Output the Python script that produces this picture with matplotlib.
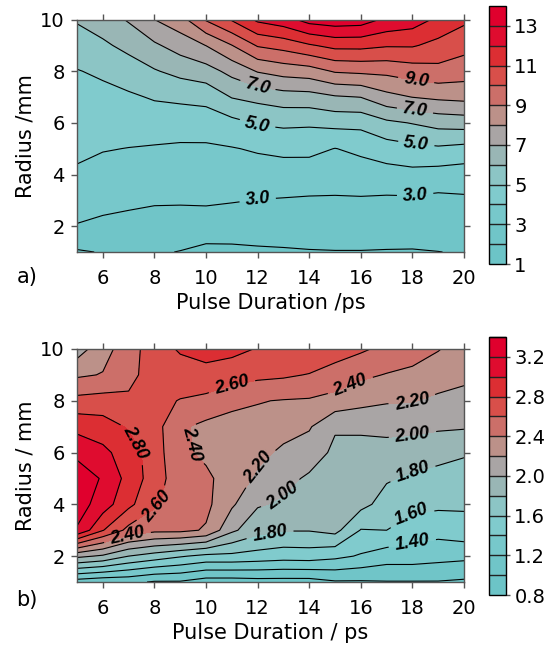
import numpy as np
import matplotlib
matplotlib.use('Agg')
import matplotlib.pyplot as plt

plt.rcParams['font.family'] = ['DejaVu Sans']

pulse_ps = [5, 6, 7, 8, 9, 10, 11, 12, 13, 14, 15, 16, 17, 18, 19, 20]
radius_mm = [1, 2, 3, 4, 5, 6, 7, 8, 9, 10]

# one row per pulse duration, values at radius 1..10 mm
values_a = [
  [1.90, 2.95, 3.42, 3.87, 4.19, 4.44, 4.70, 4.96, 5.49, 6.10],
  [2.05, 2.80, 3.28, 3.67, 4.05, 4.39, 4.74, 5.15, 5.83, 6.50],
  [2.10, 2.70, 3.19, 3.58, 3.98, 4.43, 4.86, 5.50, 6.28, 7.10],
  [2.10, 2.58, 3.11, 3.51, 3.92, 4.47, 5.09, 5.92, 6.85, 8.00],
  [1.97, 2.56, 3.10, 3.48, 3.86, 4.45, 5.20, 6.30, 7.43, 8.60],
  [1.75, 2.53, 3.13, 3.49, 3.85, 4.50, 5.30, 6.60, 8.02, 10.1],
  [1.80, 2.45, 3.06, 3.50, 3.95, 4.72, 6.05, 7.30, 8.98, 11.1],
  [1.85, 2.50, 2.98, 3.55, 4.10, 5.08, 6.30, 8.07, 10.1, 12.2],
  [1.90, 2.47, 2.94, 3.55, 4.23, 5.20, 6.55, 8.40, 10.4, 12.6],
  [1.95, 2.45, 2.90, 3.50, 4.25, 5.15, 6.60, 8.55, 10.9, 13.4],
  [1.97, 2.45, 2.88, 3.50, 3.98, 5.30, 6.90, 9.10, 11.3, 13.6],
  [1.97, 2.45, 2.90, 3.55, 4.20, 5.30, 7.02, 9.20, 11.3, 13.5],
  [1.95, 2.45, 2.85, 3.60, 4.55, 5.80, 7.70, 9.25, 11.1, 12.8],
  [1.94, 2.45, 2.85, 3.70, 4.75, 6.05, 8.02, 9.50, 11.1, 12.5],
  [1.99, 2.40, 2.75, 3.60, 4.85, 6.35, 8.20, 9.70, 10.7, 11.8],
  [2.05, 2.45, 2.85, 3.50, 4.70, 6.45, 8.30, 9.47, 10.33, 11.2],
]

values_b = [
  [1.10, 2.05, 3.18, 3.30, 3.32, 3.15, 2.94, 2.66, 2.37, 2.10],
  [1.05, 1.97, 2.81, 3.10, 3.18, 3.05, 2.89, 2.68, 2.41, 2.33],
  [1.05, 1.80, 2.54, 2.85, 2.93, 2.90, 2.78, 2.63, 2.55, 2.50],
  [0.98, 1.71, 2.45, 2.63, 2.70, 2.70, 2.68, 2.66, 2.68, 2.72],
  [0.98, 1.62, 2.45, 2.50, 2.48, 2.43, 2.43, 2.59, 2.72, 2.82],
  [0.90, 1.55, 2.38, 2.45, 2.43, 2.37, 2.35, 2.55, 2.73, 2.88],
  [0.90, 1.55, 2.04, 2.23, 2.33, 2.35, 2.33, 2.45, 2.70, 2.85],
  [0.92, 1.52, 1.87, 2.02, 2.16, 2.26, 2.34, 2.41, 2.65, 2.79],
  [0.92, 1.49, 1.81, 1.97, 2.06, 2.16, 2.28, 2.39, 2.63, 2.77],
  [0.92, 1.50, 1.81, 1.90, 1.97, 2.10, 2.22, 2.38, 2.59, 2.78],
  [0.98, 1.45, 1.86, 1.88, 1.92, 1.96, 2.02, 2.33, 2.53, 2.68],
  [0.98, 1.38, 1.59, 1.86, 1.88, 1.92, 2.04, 2.26, 2.44, 2.63],
  [0.99, 1.30, 1.60, 1.72, 1.82, 1.93, 2.05, 2.22, 2.39, 2.55],
  [0.99, 1.30, 1.50, 1.66, 1.77, 1.90, 2.05, 2.21, 2.35, 2.50],
  [0.99, 1.27, 1.47, 1.64, 1.74, 1.86, 2.03, 2.16, 2.30, 2.41],
  [0.97, 1.25, 1.52, 1.63, 1.72, 1.82, 2.02, 2.13, 2.25, 2.32],
]

levels_a = np.arange(1, 15, 1.0)
levels_b = np.round(np.arange(0.8, 3.41, 0.2), 2)

cbar_ticks_a = [1, 3, 5, 7, 9, 11, 13]
cbar_ticks_b = [0.8, 1.2, 1.6, 2.0, 2.4, 2.8, 3.2]

# teal -> grey -> red, one colour per band
band_colors = [
  '#6cc4c7', '#70c5c8', '#77c8cb', '#80cbcd', '#8cc5c5', '#99b6b5',
  '#a9a5a5', '#bc9189', '#cc6f69', '#d84f4a', '#dc2e33', '#df0c2f', '#e0002d',
]

# where the inline contour labels sit
labels_a = {
  3.0: [(12.0, 3.05), (18.1, 3.25)],
  5.0: [(12.0, 5.96), (18.15, 5.19)],
  7.0: [(12.0, 7.41), (18.1, 6.48)],
  9.0: [(18.15, 7.7)],
}
labels_b = {
  1.4: [(18.0, 2.47)],
  1.6: [(18.0, 3.5)],
  1.8: [(12.5, 2.72), (18.0, 5.23)],
  2.0: [(13.06, 4.14), (18.0, 6.71)],
  2.2: [(12.03, 5.43), (18.0, 7.94)],
  2.4: [(7.0, 2.6), (9.46, 6.33), (15.6, 8.58)],
  2.6: [(8.1, 3.88), (11.0, 8.58)],
  2.8: [(7.2, 6.33)],
}

fig = plt.figure(figsize=(5.47, 6.5), dpi=100)

def panel(rect, cbar_rect, values, levels, ticks, labels, fmt, tick_fmt, xlabel, ylabel, tag, tag_y):
  ax = fig.add_axes(rect)
  cax = fig.add_axes(cbar_rect)
  X, Y = np.meshgrid(pulse_ps, radius_mm)
  Z = np.array(values).T
  cf = ax.contourf(X, Y, Z, levels=levels, colors=band_colors)

  plain = [l for l in levels if round(l, 2) not in labels]
  ax.contour(X, Y, Z, levels=plain, colors='black', linewidths=0.8)
  # labelled levels get their own contour set so each label lands on its line
  for lev, pos in labels.items():
    cs = ax.contour(X, Y, Z, levels=[lev], colors='black', linewidths=0.8)
    texts = ax.clabel(cs, manual=pos, fmt=fmt, inline=True, inline_spacing=4,
                      fontsize=13, colors='black')
    for t in texts:
      t.set_fontweight('bold')
      t.set_fontstyle('italic')
      t.set_family('Liberation Sans')

  ax.set_xlim(5, 20)
  ax.set_ylim(1, 10)
  ax.set_xticks(range(6, 21, 2))
  ax.set_yticks(range(2, 11, 2))
  ax.tick_params(direction='out', top=True, right=True, length=4, width=1,
                 color='#555555', labelsize=14)
  ax.tick_params(axis='x', pad=8)
  ax.tick_params(axis='y', pad=5)
  for s in ax.spines.values():
    s.set_color('#555555')
    s.set_linewidth(1)
  ax.set_xlabel(xlabel, fontsize=15, labelpad=4)
  ax.set_ylabel(ylabel, fontsize=15, labelpad=3)
  fig.text(0.03, tag_y, tag, fontsize=15, va='center')

  cb = fig.colorbar(cf, cax=cax, ticks=ticks, drawedges=True)
  cb.ax.set_yticklabels([tick_fmt % t for t in ticks])
  cb.ax.tick_params(labelsize=14, length=3, width=1, color='#555555', pad=3)
  cb.outline.set_edgecolor('black')
  cb.outline.set_linewidth(1)
  cb.dividers.set_color('#222222')
  cb.dividers.set_linewidth(1)
  return ax

panel([0.1408, 0.6123, 0.7075, 0.3577], [0.894, 0.5938, 0.031, 0.397],
      values_a, levels_a, cbar_ticks_a, labels_a, '%.1f', '%g',
      'Pulse Duration /ps', 'Radius /mm', 'a)', 0.574)
panel([0.1408, 0.1046, 0.7075, 0.3585], [0.894, 0.0846, 0.031, 0.397],
      values_b, levels_b, cbar_ticks_b, labels_b, '%.2f', '%.1f',
      'Pulse Duration / ps', 'Radius / mm', 'b)', 0.077)

fig.savefig('out.png', dpi=100)
